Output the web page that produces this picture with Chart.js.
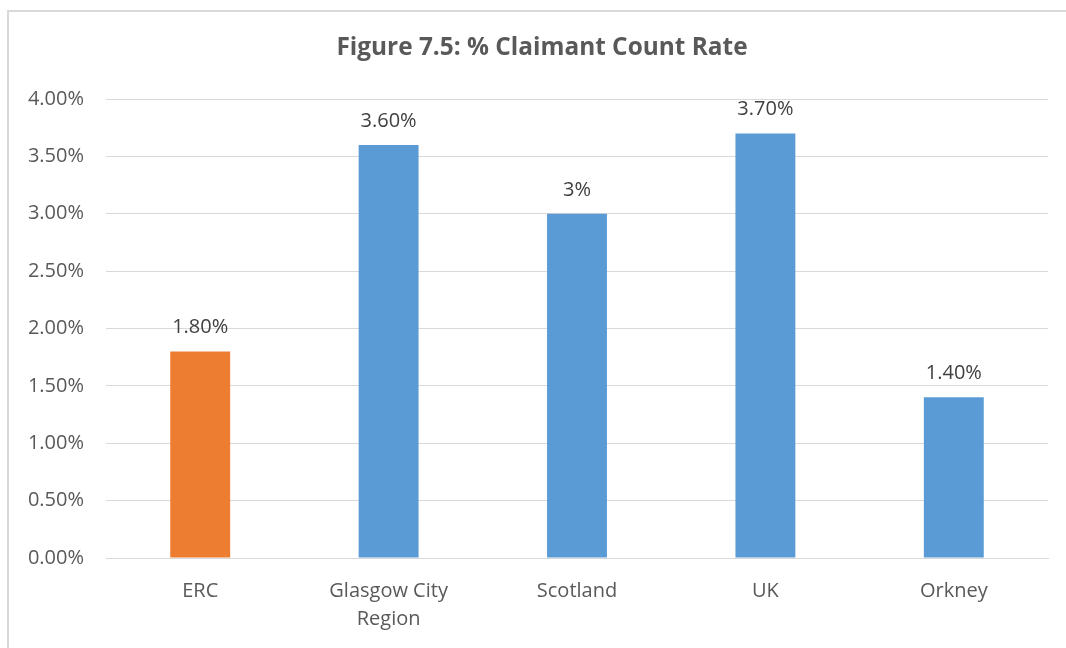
<!DOCTYPE html>
<html>
<head>
<meta charset="utf-8">
<script src="https://cdn.jsdelivr.net/npm/chart.js@4/dist/chart.umd.min.js"></script>
<style>
  html, body { margin: 0; padding: 0; background: #fff; overflow: hidden; }
  .frame { position: absolute; left: 7px; top: 10px; width: 1070px; height: 660px; border: 2px solid #d9d9d9; box-sizing: border-box; }
  .holder { position: absolute; left: 0; top: 0; width: 1066px; height: 648px; }
</style>
</head>
<body>
<div class="frame"></div>
<div class="holder"><canvas id="claimantChart"></canvas></div>
<script>
// Chart data
const categories = ['ERC', ['Glasgow City', 'Region'], 'Scotland', 'UK', 'Orkney'];
const claimantRate = [1.8, 3.6, 3.0, 3.7, 1.4];
const valueLabels = ['1.80%', '3.60%', '3%', '3.70%', '1.40%'];
const barColors = ['#ED7D31', '#5B9BD5', '#5B9BD5', '#5B9BD5', '#5B9BD5'];
const tickLabels = ['0.00%', '0.50%', '1.00%', '1.50%', '2.00%', '2.50%', '3.00%', '3.50%', '4.00%'];
const chartTitle = 'Figure 7.5: % Claimant Count Rate';

const FONT = '"Open Sans", "Liberation Sans", sans-serif';

// Title (centred on the whole frame, like the original) and value labels above bars
const barLabels = {
    id: 'barLabels',
    afterDatasetsDraw(chart) {
        const ctx = chart.ctx;
        const meta = chart.getDatasetMeta(0);
        ctx.save();
        ctx.fillStyle = '#595959';
        ctx.textAlign = 'center';
        ctx.textBaseline = 'middle';
        ctx.font = 'bold 24.4px ' + FONT;
        ctx.fillText(chartTitle, 542, 48);

        ctx.font = '20px ' + FONT;
        ctx.fillStyle = '#404040';
        ctx.textBaseline = 'alphabetic';
        meta.data.forEach(function(bar, i) {
            ctx.fillText(valueLabels[i], bar.x, bar.y - 18);
        });
        ctx.restore();
    }
};

new Chart(document.getElementById('claimantChart').getContext('2d'), {
    type: 'bar',
    data: {
        labels: categories,
        datasets: [{
            data: claimantRate,
            backgroundColor: barColors,
            categoryPercentage: 1,
            barPercentage: 0.318
        }]
    },
    options: {
        responsive: true,
        maintainAspectRatio: false,
        animation: false,
        layout: { padding: { left: 0, right: 18, top: 99, bottom: 0 } },
        plugins: {
            legend: { display: false },
            tooltip: { enabled: false },
            title: { display: false }
        },
        scales: {
            y: {
                min: 0,
                max: 4,
                border: { display: false },
                grid: { color: '#d9d9d9', lineWidth: 1, drawTicks: false },
                ticks: {
                    stepSize: 0.5,
                    color: '#595959',
                    font: { family: FONT, size: 20 },
                    padding: 22,
                    callback: function(value, index) { return tickLabels[index]; }
                },
                afterFit: function(scale) { scale.width = 106; }
            },
            x: {
                border: { color: '#d9d9d9', width: 1 },
                grid: { display: false },
                ticks: {
                    color: '#595959',
                    font: { family: FONT, size: 20, lineHeight: 1.4 },
                    padding: 11,
                    maxRotation: 0
                },
                afterFit: function(scale) { scale.height = 90; }
            }
        }
    },
    plugins: [barLabels]
});
</script>
</body>
</html>
